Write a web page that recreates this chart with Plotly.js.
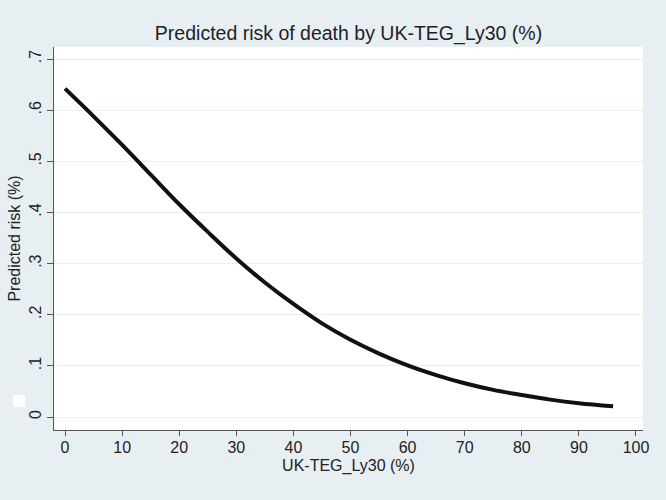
<!DOCTYPE html>
<html>
<head>
<meta charset="utf-8">
<script src="https://cdn.plot.ly/plotly-3.0.1.min.js"></script>
<style>
  html, body { margin: 0; padding: 0; background: #e8eff2; }
  #chart { width: 666px; height: 500px; }
</style>
</head>
<body>
<div id="chart"></div>
<script>
// predicted risk, x = UK-TEG_Ly30 (%)
var ly30 = [0, 5, 10, 15, 20, 25, 30, 35, 40, 45, 50, 55, 60, 65, 70, 75, 80, 85, 90, 96];
var risk = [0.642, 0.588, 0.532, 0.474, 0.416, 0.362, 0.310, 0.263, 0.221, 0.183,
            0.151, 0.124, 0.101, 0.082, 0.066, 0.053, 0.043, 0.034, 0.027, 0.021];

var yTickVals = [0, 0.1, 0.2, 0.3, 0.4, 0.5, 0.6, 0.7];
var yTickText = ['0', '.1', '.2', '.3', '.4', '.5', '.6', '.7'];
var xTickVals = [0, 10, 20, 30, 40, 50, 60, 70, 80, 90, 100];

var curve = {
    x: ly30,
    y: risk,
    type: 'scatter',
    mode: 'lines',
    line: { color: '#111111', width: 4, shape: 'spline' },
    hoverinfo: 'skip'
};

var fontFam = '"Liberation Sans", Arial, Helvetica, sans-serif';

var layout = {
    width: 666,
    height: 500,
    paper_bgcolor: '#e8eff2',
    plot_bgcolor: '#ffffff',
    margin: { l: 54, r: 23, t: 47, b: 70 },
    showlegend: false,
    font: { family: fontFam, color: '#222222', size: 16 },
    title: {
        text: 'Predicted risk of death by UK-TEG_Ly30 (%)',
        font: { family: fontFam, size: 19.5, color: '#1e1e2a' },
        xref: 'paper', x: 0.5, xanchor: 'center',
        yref: 'container', y: 0.934, yanchor: 'middle'
    },
    xaxis: {
        range: [-1.93, 101.23],
        tickvals: xTickVals,
        ticks: 'outside', ticklen: 5, tickcolor: '#555555', tickwidth: 1,
        ticklabelstandoff: -2,
        showline: true, linecolor: '#555555', linewidth: 1,
        showgrid: false, zeroline: false,
        tickfont: { size: 16 },
        title: { text: 'UK-TEG_Ly30 (%)', font: { size: 16 }, standoff: 4 },
        fixedrange: true
    },
    yaxis: {
        range: [-0.0254, 0.7235],
        tickvals: yTickVals,
        ticktext: yTickText,
        tickangle: -90,
        ticks: 'outside', ticklen: 6, tickcolor: '#555555', tickwidth: 1,
        showline: true, linecolor: '#555555', linewidth: 1,
        showgrid: true, gridcolor: '#eaf0f2', gridwidth: 1,
        zeroline: false,
        tickfont: { size: 16 },
        title: { text: 'Predicted risk (%)', font: { size: 16 }, standoff: 1 },
        fixedrange: true
    },
    shapes: [{
        type: 'rect', xref: 'paper', yref: 'paper',
        x0: -0.0696, x1: -0.0492, y0: 0.060, y1: 0.0914,
        fillcolor: '#ffffff', line: { width: 0 }
    }]
};

Plotly.newPlot('chart', [curve], layout, { displayModeBar: false, staticPlot: true });
</script>
</body>
</html>
